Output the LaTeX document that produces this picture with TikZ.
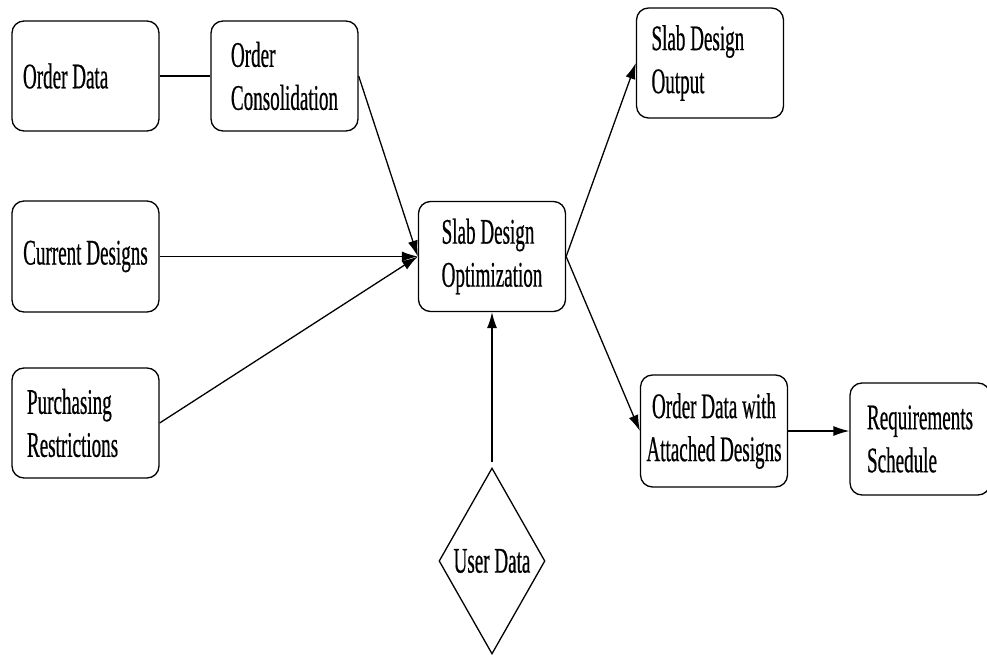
\documentclass[tikz,border=0pt]{standalone}
\usepackage{fontspec}
\setmainfont[FakeStretch=0.53, FakeBold=0.5]{Liberation Serif}
\usetikzlibrary{positioning, arrows.meta, shapes.geometric}

\begin{document}
\begin{tikzpicture}[x=1pt, y=1pt, on grid, line width=1.3pt, >={Latex[length=16pt, width=10pt]},
    block/.style={draw, rounded corners=12pt, minimum width=147pt, minimum height=110pt,
      align=flush left, inner sep=0pt, font=\fontsize{36}{43}\selectfont},
    userin/.style={draw, diamond, aspect=0.57, minimum width=106pt, minimum height=186pt,
      inner sep=0pt, font=\fontsize{36}{43}\selectfont}]
    \useasboundingbox (0,0) rectangle (987,654);

    % inputs on the left
    \node[block, text width=125pt, inner xsep=11pt] (od) at (85.5,578) {Order Data};
    \node[block] (oc) [right=199pt of od] {Order\\Consolidation};
    \node[block, minimum height=111pt] (cd) [below=180.5pt of od] {Current Designs};
    \node[block, text width=117pt, inner xsep=15pt] (pr) [below=166.5pt of cd] {Purchasing\\Restrictions};

    % optimizer and outputs
    \node[block] (opt) [right=406.5pt of cd] {Slab Design\\Optimization};
    \node[block, text width=117pt, inner xsep=15pt] (out) [above right=193.5pt and 218pt of opt] {Slab Design\\Output};
    \node[block, align=center, minimum height=112pt] (att) [below right=174.5pt and 222pt of opt] {Order Data with\\Attached Designs};
    \node[block, minimum width=140pt, minimum height=112pt] (req) [below right=8pt and 206pt of att] {Requirements\\Schedule};
    \node[userin] (ud) [below=304.5pt of opt] {User Data};

    \draw (od) -- (oc);
    \path[->]
      (oc.east) edge (opt.west)
      (cd) edge (opt.west)
      (pr.east) edge (opt.west)
      (ud) edge[shorten <=5pt] (opt)
      (opt.east) edge (out.west)
      (opt.east) edge (att.west)
      (att.east) edge (att.east -| req.west);
\end{tikzpicture}
\end{document}
